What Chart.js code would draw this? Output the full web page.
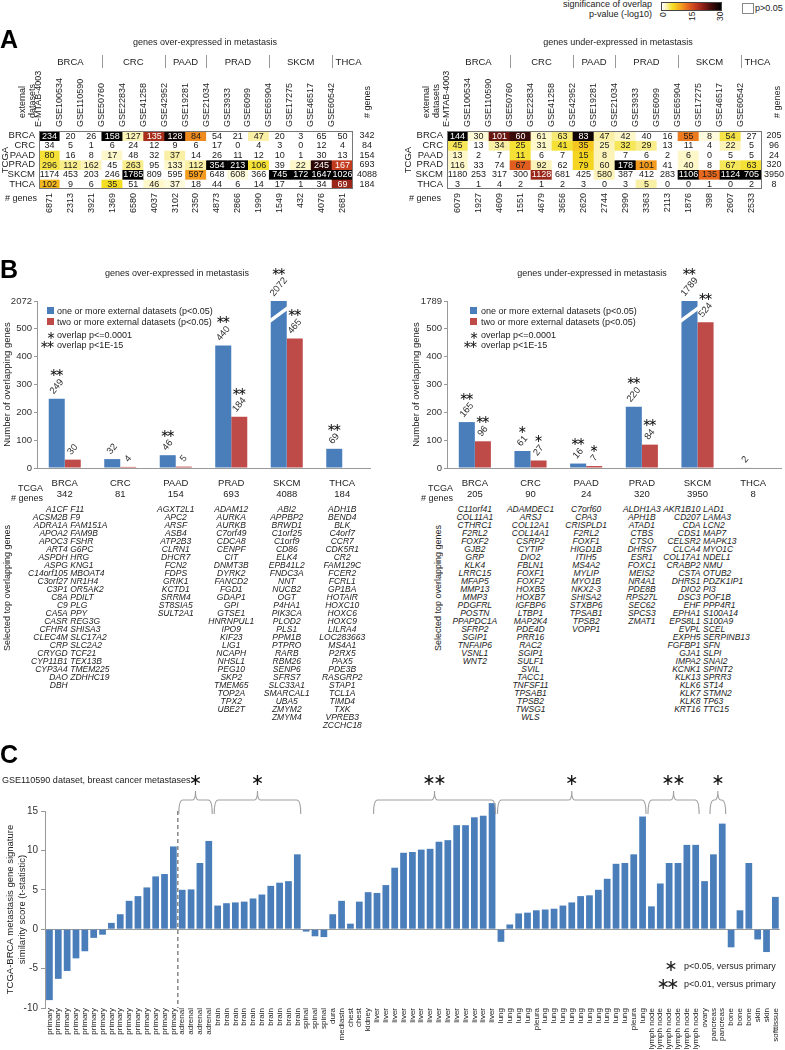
<!DOCTYPE html>
<html>
<head>
<meta charset="utf-8">
<title>Metastasis gene signature overlap</title>
<script src="https://cdn.jsdelivr.net/npm/chart.js@4.4.1/dist/chart.umd.min.js"></script>
<style>
  html, body { margin:0; padding:0; background:#fff; }
  body { position:relative; width:785px; height:1050px; overflow:hidden; font-family:'Liberation Sans', Arial, Helvetica, sans-serif; color:#222; }
  canvas { position:absolute; }
  .t { position:absolute; white-space:nowrap; font-size:9px; line-height:10px; }
  .vt { writing-mode:vertical-rl; transform:rotate(180deg); }
  .panel { position:absolute; font-weight:bold; font-size:25px; line-height:25px; color:#000; }
  .genes { position:absolute; font-style:italic; font-size:8.5px; line-height:8px; white-space:nowrap; color:#222; }
  .star { font-family:'DejaVu Sans', sans-serif; text-align:center; }
  .sq { position:absolute; width:7px; height:7px; }
</style>
</head>
<body>
<canvas id="heatUp" width="395" height="195" style="left:0;top:30px"></canvas>
<canvas id="heatDown" width="390" height="195" style="left:395px;top:30px"></canvas>
<canvas id="barUp" width="395" height="245" style="left:0;top:255px"></canvas>
<canvas id="barDown" width="380" height="245" style="left:405px;top:255px"></canvas>
<canvas id="siteBars" width="785" height="280" style="left:0;top:770px"></canvas>

<!-- colour key -->
<div class="t" style="right:133px;top:-1px;text-align:right;">significance of overlap<br>p-value (-log10)</div>
<div id="cbar" style="position:absolute;left:661px;top:2px;width:59px;height:7px;border:1px solid #444"></div>
<div class="t vt" style="left:658px;top:12px;height:10px;font-size:8.5px;text-align:end">0</div>
<div class="t vt" style="left:687px;top:12px;height:10px;font-size:8.5px;text-align:end">15</div>
<div class="t vt" style="left:715px;top:12px;height:10px;font-size:8.5px;text-align:end">30</div>
<div style="position:absolute;left:742px;top:3px;width:10px;height:9px;border:1px solid #888"></div>
<div class="t" style="left:755px;top:3px;font-size:9px">p&gt;0.05</div>

<!-- panel letters -->
<div class="panel" style="left:0;top:27px">A</div>
<div class="panel" style="left:0;top:257px">B</div>
<div class="panel" style="left:0;top:742px">C</div>

<!-- panel A texts -->
<div class="t" style="left:105px;width:200px;text-align:center;top:37px">genes over-expressed in metastasis</div>
<div class="t" style="left:518px;width:200px;text-align:center;top:37px">genes under-expressed in metastasis</div>
<div class="t vt" style="left:17px;top:60px;height:58px">external<br>datasets</div>
<div class="t vt" style="left:421px;top:60px;height:58px">external<br>datasets</div>
<div class="t vt" style="left:362px;top:70px;height:48px"># genes</div>
<div class="t vt" style="left:772px;top:70px;height:48px"># genes</div>
<div class="t" style="left:0;width:37px;text-align:right;top:193px"># genes</div>
<div class="t" style="left:395px;width:46px;text-align:right;top:193px"># genes</div>

<!-- panel B texts -->
<div class="t" style="left:77px;width:200px;text-align:center;top:268px">genes over-expressed in metastasis</div>
<div class="t" style="left:492px;width:200px;text-align:center;top:268px">genes under-expressed in metastasis</div>

<div class="sq" style="left:47px;top:307px;background:#4A7EBB"></div>
<div class="t" style="left:57px;top:306px">one or more external datasets (p&lt;0.05)</div>
<div class="sq" style="left:47px;top:318px;background:#BE4B48"></div>
<div class="t" style="left:57px;top:317px">two or more external datasets (p&lt;0.05)</div>
<div class="t star" style="left:41px;top:329px;width:20px;font-size:11px;line-height:14px">∗</div>
<div class="t" style="left:57px;top:330px">overlap p&lt;=0.0001</div>
<div class="t star" style="left:36px;top:338px;width:20px;font-size:11px;line-height:14px;letter-spacing:-3px">∗∗</div>
<div class="t" style="left:57px;top:340px">overlap p&lt;1E-15</div>

<div class="sq" style="left:470px;top:307px;background:#4A7EBB"></div>
<div class="t" style="left:481px;top:306px">one or more external datasets (p&lt;0.05)</div>
<div class="sq" style="left:470px;top:318px;background:#BE4B48"></div>
<div class="t" style="left:481px;top:317px">two or more external datasets (p&lt;0.05)</div>
<div class="t star" style="left:464px;top:329px;width:20px;font-size:11px;line-height:14px">∗</div>
<div class="t" style="left:481px;top:330px">overlap p&lt;=0.0001</div>
<div class="t star" style="left:459px;top:338px;width:20px;font-size:11px;line-height:14px;letter-spacing:-3px">∗∗</div>
<div class="t" style="left:481px;top:340px">overlap p&lt;1E-15</div>

<div class="t" style="left:0;width:43px;text-align:right;top:483px">TCGA</div>
<div class="t" style="left:0;width:43px;text-align:right;top:493px"># genes</div>
<div class="t" style="left:395px;width:58px;text-align:right;top:483px">TCGA</div>
<div class="t" style="left:395px;width:58px;text-align:right;top:493px"># genes</div>
<div class="t vt" style="left:2px;top:518px;height:140px;text-align:center">Selected top overlapping genes</div>
<div class="t vt" style="left:433px;top:518px;height:140px;text-align:center">Selected top overlapping genes</div>

<!-- panel C texts -->
<div class="t" style="left:2px;top:775px;font-size:9px">GSE110590 dataset, breast cancer metastases</div>
<div class="t star" style="left:661px;top:958px;width:20px;font-size:16px;line-height:16px">∗</div>
<div class="t" style="left:684px;top:961px">p&lt;0.05, versus primary</div>
<div class="t star" style="left:651px;top:976px;width:30px;font-size:16px;line-height:16px;letter-spacing:-4px">∗∗</div>
<div class="t" style="left:684px;top:979px">p&lt;0.01, versus primary</div>

<script>
const FONT = "'Liberation Sans', Arial, Helvetica, sans-serif";
Chart.defaults.font.family = FONT;
Chart.defaults.font.size = 9;
Chart.defaults.color = '#222';
Chart.defaults.animation = false;

/* ================= PANEL A : overlap heatmaps ================= */
const extDatasets = ['E-MTAB-4003','GSE100534','GSE110590','GSE50760','GSE22834','GSE41258','GSE42952','GSE19281','GSE21034','GSE3933','GSE6099','GSE65904','GSE17275','GSE46517','GSE60542'];
const extCancerTypes = ['BRCA','CRC','PAAD','PRAD','SKCM','THCA'];
const extCancerSpan = [3,3,2,3,3,1];
const tcgaTypes = ['BRCA','CRC','PAAD','PRAD','SKCM','THCA'];

// genes over-expressed in metastasis: overlap counts (rows = TCGA type)
const upOverlap = [
  [234,20,26,158,127,135,128,84,54,21,47,20,3,65,50],
  [34,5,1,6,24,12,9,6,17,0,4,3,0,12,4],
  [80,16,8,17,48,32,37,14,26,11,12,10,1,30,13],
  [296,112,162,45,263,95,133,112,354,213,106,39,22,245,167],
  [1174,453,203,246,1785,809,595,597,648,608,366,745,172,1647,1026],
  [102,9,6,35,51,46,37,18,44,6,14,17,1,34,69]
];
// significance of overlap, -log10 p (0 = p>0.05)
const upSignif = [
  [30,0,0,30,2,19,29,11,0,0,2.5,0,0,0,0],
  [0,0,0,0,0,0,0,0,0,0,0,0,0,0,0],
  [5,0,0,1.5,0,0,2.5,0,0,0,0,0,0,0,0],
  [4.5,3,2,0,3,0,1.5,2.5,30,30,5,0,1.5,27,17],
  [0,0,0,0,30,0,0,10,0,1,0,30,30,30,30],
  [8,0,0,5.5,0,1.5,1,0,0,0,0,0,0,0,20]
];
const upTcgaGenes = [342,84,154,693,4088,184];
const upExtGenes = [6871,2313,3921,1369,6580,4037,3102,2350,4873,2866,1990,1549,432,4076,2681];

// genes under-expressed in metastasis
const downOverlap = [
  [144,30,101,60,61,63,83,47,42,40,16,55,8,54,27],
  [45,13,34,25,31,41,35,25,32,29,13,11,4,22,5],
  [13,2,7,11,6,7,15,8,7,6,2,6,0,5,5],
  [116,33,74,67,92,62,79,60,178,101,41,40,8,67,63],
  [1180,253,317,300,1128,681,425,580,387,412,283,1106,135,1124,705],
  [3,1,4,2,1,2,3,0,3,5,0,0,1,0,2]
];
const downSignif = [
  [30,1.2,23,26,1.5,3.5,29,2.5,1.5,0,0,12,1,4.5,0],
  [4,0,2.5,5,1.5,5,7,2,4,3,0,0,0,2,0],
  [1.5,0,0,5,0,0,6,2,0,0,0,1.5,0,0,0],
  [1.5,0,0,14,2,0,6,2,30,10,0,1.5,0,4,5],
  [0,0,0,0,20,0,0,2,0,0,0,30,13,30,30],
  [0,0,0,0,0,0,0,0,0,2.5,0,0,0,0,0]
];
const downTcgaGenes = [205,96,24,320,3950,8];
const downExtGenes = [6079,1927,4609,1551,4679,3656,2620,2744,2990,3363,2113,1876,398,2607,2533];

/* ================= PANEL B : overlapping genes ================= */
const bTypes = ['BRCA','CRC','PAAD','PRAD','SKCM','THCA'];
const upTcgaN = [342,81,154,693,4088,184];
const upOneOrMore = [249,32,46,440,2072,69];
const upTwoOrMore = [30,4,5,184,465,null];
const upStarsOne = ['**','','**','**','**','**'];
const upStarsTwo = ['','','','**','**',''];

const downTcgaN = [205,90,24,320,3950,8];
const downOneOrMore = [165,61,16,220,1789,2];
const downTwoOrMore = [96,27,7,84,524,null];
const downStarsOne = ['**','*','**','**','**',''];
const downStarsTwo = ['**','*','*','**','**',''];

const upGeneLists = [
  [['A1CF','ACSM2B','ADRA1A','APOA2','APOC3','ART4','ASPDH','ASPG','C14orf105','C3orf27','C3P1','C8A','C9','CA5A','CASR','CFHR4','CLEC4M','CRP','CRYGD','CYP11B1','CYP3A4','DAO','DBH'],
   ['F11','F9','FAM151A','FAM9B','FSHR','G6PC','HRG','KNG1','MBOAT4','NR1H4','OR5AK2','PDILT','PLG','PPY','REG3G','SHISA3','SLC17A2','SLC2A2','TCF21','TEX13B','TMEM225','ZDHHC19']],
  [],
  ['AGXT2L1','APC2','ARSF','ASB4','ATP2B3','CLRN1','DHCR7','FCN2','FDPS','GRIK1','KCTD1','SRRM4','ST8SIA5','SULT2A1'],
  ['ADAM12','AURKA','AURKB','C7orf49','CDCA8','CENPF','CIT','DNMT3B','DYRK2','FANCD2','FGD1','GDAP1','GPI','GTSE1','HNRNPUL1','IPO9','KIF23','LIG1','NCAPH','NHSL1','PEG10','SKP2','TMEM65','TOP2A','TPX2','UBE2T'],
  ['ABI2','APPBP2','BRWD1','C1orf25','C1orf9','CD86','ELK4','EPB41L2','FNDC3A','NNT','NUCB2','OGT','P4HA1','PIK3CA','PLOD2','PLS1','PPM1B','PTPRO','RARB','RBM26','SENP6','SFRS7','SLC33A1','SMARCAL1','UBA5','ZMYM2','ZMYM4'],
  ['ADH1B','BEND4','BLK','C4orf7','CCR7','CDK5R1','CR2','FAM129C','FCER2','FCRL1','GP1BA','HOTAIR','HOXC10','HOXC6','HOXC9','LILRA4','LOC283663','MS4A1','P2RX5','PAX5','PDE3B','RASGRP2','STAP1','TCL1A','TIMD4','TXK','VPREB3','ZCCHC18']
];
const downGeneLists = [
  ['C11orf41','COL11A1','CTHRC1','F2RL2','FOXF2','GJB2','GRP','KLK4','LRRC15','MFAP5','MMP13','MMP3','PDGFRL','POSTN','PPAPDC1A','SFRP2','SGIP1','TNFAIP6','VSNL1','WNT2'],
  ['ADAMDEC1','ARSJ','COL12A1','COL14A1','CSRP2','CYTIP','DIO2','FBLN1','FOXF1','FOXF2','HOXB5','HOXB7','IGFBP6','LTBP1','MAP2K4','PDE4D','PRR16','RAC2','SGIP1','SULF1','SVIL','TACC1','TNFSF11','TPSAB1','TPSB2','TWSG1','WLS'],
  ['C7orf60','CPA3','CRISPLD1','F2RL2','FOXF1','HIGD1B','ITIH5','MS4A2','MYLIP','MYO1B','NKX2-3','SHISA2','STXBP6','TPSAB1','TPSB2','VOPP1'],
  ['ALDH1A3','APH1B','ATAD1','CTBS','CTSO','DHRS7','ESR1','FOXC1','MEIS2','NR4A1','PDE8B','RPS27L','SEC62','SPCS3','ZMAT1'],
  [['AKR1B10','CD207','CDA','CDS1','CELSR2','CLCA4','COL17A1','CRABP2','CSTA','DHRS1','DIO2','DSC3','EHF','EPHA1','EPS8L1','EVPL','EXPH5','FGFBP1','GJA1','IMPA2','KCNK1','KLK13','KLK6','KLK7','KLK8','KRT16'],
   ['LAD1','LAMA3','LCN2','MAP7','MAPK13','MYO1C','NDEL1','NMU','OTUB2','PDZK1IP1','PI3','POF1B','PPP4R1','S100A14','S100A9','SCEL','SERPINB13','SFN','SLPI','SNAI2','SPINT2','SPRR3','ST14','STMN2','TP63','TTC15']],
  []
];

/* ================= PANEL C : GSE110590 signature scores ================= */
const siteLabels = [
  'primary','primary','primary','primary','primary','primary','primary','primary','primary','primary','primary','primary','primary','primary','primary',
  'adrenal','adrenal','adrenal','adrenal',
  'brain','brain','brain','brain','brain','brain','brain','brain','brain','brain',
  'spinal','spinal','spinal',
  'dura','mediastn','chest','chest','kidney',
  'liver','liver','liver','liver','liver','liver','liver','liver','liver','liver','liver','liver','liver','liver',
  'lung','lung','lung','lung','pleura','lung','lung','lung','lung','lung','lung','lung','lung','lung','lung','pleura','lung',
  'lymph node','lymph node','lymph node','lymph node','lymph node','lymph node',
  'ovary','pancreas','pancreas','bone','bone','bone','skin','skin','softtissue'
];
const tStatistic = [
  -9.0,-6.3,-5.3,-3.7,-2.8,-1.1,-0.7,0.8,1.9,3.6,4.2,5.3,6.7,7.0,10.5,
  5.0,5.05,8.4,11.2,
  3.0,3.3,3.4,3.5,3.9,4.4,5.5,5.9,6.1,9.5,
  -0.3,-0.9,-1.0,
  1.9,3.6,0.7,3.5,4.7,
  4.6,5.6,7.8,9.7,9.8,10.1,10.2,11.1,11.3,13.2,13.2,14.2,14.4,16.0,
  -1.6,0.6,2.0,2.1,2.4,2.5,2.6,3.0,3.4,4.2,4.3,5.0,6.4,8.3,8.4,9.5,14.3,
  2.9,5.8,8.4,8.4,10.7,10.7,
  6.1,9.5,13.4,-2.3,2.4,8.4,-1.3,-2.9,4.1
];
const lastPrimaryIndex = 14;
const sigGroupFrom = [15,19,37,51,68,75];
const sigGroupTo   = [18,28,50,67,73,76];
const sigGroupMark = ['*','*','**','*','**','*'];

/* ================= colour map ================= */
const cmapStops = [
  [0,[255,255,255]],[1,[254,250,220]],[2.5,[250,240,165]],[4,[246,230,90]],[5.5,[244,222,35]],
  [7.5,[245,190,30]],[10,[243,155,30]],[13,[232,105,30]],[17,[196,60,32]],[21,[140,30,22]],
  [25,[70,12,10]],[30,[0,0,0]]
];
function sigColor(v) {
  if (!v) return '#ffffff';
  v = Math.min(30, v);
  for (let i = 1; i < cmapStops.length; i++) {
    if (v <= cmapStops[i][0]) {
      const [a, ca] = cmapStops[i-1], [b, cb] = cmapStops[i];
      const t = (v - a) / (b - a);
      return 'rgb(' + ca.map((c, k) => Math.round(c + (cb[k] - c) * t)).join(',') + ')';
    }
  }
  return '#000';
}
document.getElementById('cbar').style.background =
  'linear-gradient(to right,' + cmapStops.map(s => `rgb(${s[1].join(',')}) ${(s[0]/30*100).toFixed(1)}%`).join(',') + ')';

function drawStars(ctx, s, cx, cy, size, spacing) {
  if (!s) return;
  const n = s.length;
  ctx.save();
  ctx.font = `${size}px 'DejaVu Sans', sans-serif`;
  ctx.textAlign = 'center'; ctx.textBaseline = 'middle'; ctx.fillStyle = '#111';
  for (let i = 0; i < n; i++) ctx.fillText('∗', cx + (i - (n - 1) / 2) * spacing, cy);
  ctx.restore();
}

/* ================= heatmap plugin & builder ================= */
const heatPlugin = {
  id: 'heatAnno',
  afterDatasetsDraw(chart, args, o) {
    const ctx = chart.ctx, a = chart.chartArea, xs = chart.scales.x;
    ctx.save();
    ctx.font = `9px ${FONT}`; ctx.textAlign = 'center'; ctx.textBaseline = 'middle';
    chart.data.datasets.forEach((ds, r) => {
      chart.getDatasetMeta(r).data.forEach((el, c) => {
        ctx.fillStyle = o.signif[r][c] >= 15 ? '#ffffff' : '#1a1a1a';
        ctx.fillText(String(o.overlap[r][c]), el.x, (el.y + el.base) / 2 + 0.5);
      });
    });
    ctx.strokeStyle = '#777'; ctx.lineWidth = 1;
    ctx.strokeRect(Math.round(a.left) + 0.5, Math.round(a.top) + 0.5, Math.round(a.right - a.left) - 1, Math.round(a.bottom - a.top) - 1);
    const colW = xs.getPixelForValue(1) - xs.getPixelForValue(0);
    let k = 0;
    ctx.font = `9.5px ${FONT}`; ctx.fillStyle = '#222';
    o.groups.forEach((g, gi) => {
      const span = o.spans[gi];
      const x0 = xs.getPixelForValue(k) - colW / 2, x1 = xs.getPixelForValue(k + span - 1) + colW / 2;
      ctx.fillText(g, (x0 + x1) / 2 + (span === 1 ? 6 : 0), o.groupY);
      if (k > 0) {
        ctx.strokeStyle = '#999'; ctx.lineWidth = 1;
        ctx.beginPath(); ctx.moveTo(Math.round(x0) + 0.5, o.groupY - 7); ctx.lineTo(Math.round(x0) + 0.5, o.groupY + 6); ctx.stroke();
      }
      k += span;
    });
    ctx.restore();
  }
};

function heatmapConfig(overlap, signif, tcgaN, extN, leftW, rightW, titlePad, rightPad) {
  const datasets = tcgaTypes.map((t, r) => ({
    label: t,
    data: extDatasets.map(() => [r, r + 1]),
    backgroundColor: signif[r].map(sigColor),
    borderWidth: 0,
    grouped: false,
    categoryPercentage: 1,
    barPercentage: 1,
    xAxisID: 'x', yAxisID: 'y'
  }));
  const noGrid = { display: false, drawTicks: false };
  return {
    type: 'bar',
    data: { labels: extDatasets, datasets },
    options: {
      responsive: false, animation: false,
      layout: { padding: { top: 39, left: 0, right: 0, bottom: 0 } },
      plugins: {
        legend: { display: false }, tooltip: { enabled: false },
        heatAnno: { overlap, signif, groups: extCancerTypes, spans: extCancerSpan, groupY: 32 }
      },
      scales: {
        x: { type: 'category', display: false, offset: true },
        y: { type: 'linear', display: false, min: 0, max: 6, reverse: true },
        xTop: { type: 'category', labels: extDatasets, position: 'top', offset: true, grid: noGrid, border: { display: false },
                ticks: { minRotation: 90, maxRotation: 90, autoSkip: false, padding: 4, font: { size: 9 } },
                afterFit: s => { s.height = 62; } },
        xBot: { type: 'category', labels: extN.map(String), position: 'bottom', offset: true, grid: noGrid, border: { display: false },
                ticks: { minRotation: 90, maxRotation: 90, autoSkip: false, padding: 4, font: { size: 9 } },
                afterFit: s => { s.height = 36; } },
        yL: { type: 'category', labels: tcgaTypes, position: 'left', offset: true, grid: noGrid, border: { display: false },
              ticks: { padding: 4, font: { size: 9.5 }, autoSkip: false },
              title: { display: true, text: 'TCGA', font: { size: 9.5 }, padding: { top: titlePad, bottom: 0 } },
              afterFit: s => { s.width = leftW; } },
        yR: { type: 'category', labels: tcgaN.map(String), position: 'right', offset: true, grid: noGrid, border: { display: false },
              ticks: { padding: rightPad, crossAlign: 'center', font: { size: 9 }, autoSkip: false },
              afterFit: s => { s.width = rightW; } }
      }
    },
    plugins: [heatPlugin]
  };
}

new Chart(document.getElementById('heatUp'), heatmapConfig(upOverlap, upSignif, upTcgaGenes, upExtGenes, 39, 42, 0, 4));
new Chart(document.getElementById('heatDown'), heatmapConfig(downOverlap, downSignif, downTcgaGenes, downExtGenes, 52, 23, 8, 2));

/* ================= bar chart (panel B) ================= */
const B_AXIS_TOP = 600;
const barLabelPlugin = {
  id: 'barLabels',
  afterDatasetsDraw(chart, args, o) {
    const ctx = chart.ctx, ys = chart.scales.y;
    chart.data.datasets.forEach((ds, di) => {
      chart.getDatasetMeta(di).data.forEach((el, i) => {
        const v = ds.real[i];
        if (v == null) return;
        const w = el.width;
        if (v > ys.max) {
          const yA = ys.getPixelForValue(o.breakLow), yB = ys.getPixelForValue(o.breakHigh);
          ctx.save(); ctx.strokeStyle = '#fff'; ctx.lineWidth = 3.5;
          ctx.beginPath(); ctx.moveTo(el.x - w / 2 - 2, yA); ctx.lineTo(el.x + w / 2 + 2, yB); ctx.stroke();
          ctx.restore();
        }
        const txt = String(v);
        ctx.save();
        ctx.font = `9.5px ${FONT}`;
        const L = ctx.measureText(txt).width;
        const ang = 50 * Math.PI / 180;
        const cy = el.y - 6 - (L / 2) * Math.sin(ang);
        ctx.translate(el.x, cy); ctx.rotate(-ang);
        ctx.fillStyle = '#333'; ctx.textAlign = 'center'; ctx.textBaseline = 'middle';
        ctx.fillText(txt, 0, 0);
        ctx.restore();
        drawStars(ctx, ds.stars[i], el.x, cy - (L / 2) * Math.sin(ang) - 7, 11, 6);
      });
    });
  }
};

function barConfig(types, tcgaN, one, two, starsOne, starsTwo, yW, padL, padR, titlePad) {
  const cap = v => v == null ? null : Math.min(v, B_AXIS_TOP);
  const topLabel = Math.max(...one.filter(v => v != null));
  return {
    type: 'bar',
    data: {
      labels: types.map((t, i) => [t, String(tcgaN[i])]),
      datasets: [
        { label: 'one or more external datasets (p<0.05)', data: one.map(cap), real: one, stars: starsOne, backgroundColor: '#4A7EBB' },
        { label: 'two or more external datasets (p<0.05)', data: two.map(cap), real: two, stars: starsTwo, backgroundColor: '#BE4B48' }
      ]
    },
    options: {
      responsive: false, animation: false,
      datasets: { bar: { categoryPercentage: 0.577, barPercentage: 1 } },
      layout: { padding: { top: 46, left: padL, right: padR, bottom: 0 } },
      plugins: { legend: { display: false }, tooltip: { enabled: false }, barLabels: { breakLow: 525, breakHigh: 578 } },
      scales: {
        x: { grid: { display: false, drawTicks: false }, border: { display: true, color: '#999' },
             ticks: { padding: 9, font: { size: 9.5, lineHeight: 1.25 }, color: '#222' },
             afterFit: s => { s.height = 32; } },
        y: { min: 0, max: B_AXIS_TOP,
             ticks: { stepSize: 100, padding: 2, font: { size: 9.5 }, color: '#333',
                      callback: v => v === B_AXIS_TOP ? String(topLabel) : String(v) },
             grid: { drawOnChartArea: false, tickLength: 3, tickColor: '#999' },
             border: { display: true, color: '#999' },
             title: { display: true, text: 'Number of overlapping genes', font: { size: 9.5 }, color: '#222', padding: { top: titlePad, bottom: 0 } },
             afterFit: s => { s.width = yW; } }
      }
    },
    plugins: [barLabelPlugin]
  };
}

const barUp = new Chart(document.getElementById('barUp'),
  barConfig(bTypes, upTcgaN, upOneOrMore, upTwoOrMore, upStarsOne, upStarsTwo, 37, 0, 25, 2));
const barDown = new Chart(document.getElementById('barDown'),
  barConfig(bTypes, downTcgaN, downOneOrMore, downTwoOrMore, downStarsOne, downStarsTwo, 42, 0, 4, 6));

const GENE_TOP = 505;
function placeGeneLists(chart, canvasLeft, lists) {
  const xs = chart.scales.x;
  lists.forEach((L, i) => {
    if (!L.length) return;
    const cx = canvasLeft + xs.getPixelForValue(i);
    if (Array.isArray(L[0])) {
      const split = cx + 3;
      const c1 = document.createElement('div');
      c1.className = 'genes';
      c1.style.cssText = `left:${split - 100}px;width:100px;text-align:right;top:${GENE_TOP}px`;
      c1.innerHTML = L[0].join('<br>');
      const c2 = document.createElement('div');
      c2.className = 'genes';
      c2.style.cssText = `left:${split + 2.5}px;text-align:left;top:${GENE_TOP}px`;
      c2.innerHTML = L[1].join('<br>');
      document.body.appendChild(c1); document.body.appendChild(c2);
    } else {
      const d = document.createElement('div');
      d.className = 'genes';
      d.style.cssText = `left:${cx - 60}px;width:120px;text-align:center;top:${GENE_TOP}px`;
      d.innerHTML = L.join('<br>');
      document.body.appendChild(d);
    }
  });
}
placeGeneLists(barUp, 0, upGeneLists);
placeGeneLists(barDown, 405, downGeneLists);

/* ================= panel C chart ================= */
const sitePlugin = {
  id: 'siteAnno',
  afterDatasetsDraw(chart, args, o) {
    const { ctx, chartArea: a, scales: { x } } = chart;
    const step = x.getPixelForValue(1) - x.getPixelForValue(0);
    const xd = (x.getPixelForValue(o.split) + x.getPixelForValue(o.split + 1)) / 2;
    ctx.save();
    ctx.setLineDash([4, 3]); ctx.strokeStyle = '#888'; ctx.lineWidth = 1.5;
    ctx.beginPath(); ctx.moveTo(xd, a.top); ctx.lineTo(xd, a.bottom); ctx.stroke();
    ctx.setLineDash([]);
    ctx.strokeStyle = '#a0a0a0'; ctx.lineWidth = 1.1;
    const yLine = a.top - 11, yLeg = a.top + 3, yPeak = a.top - 20;
    o.from.forEach((f, k) => {
      const t = o.to[k];
      const xL = x.getPixelForValue(f) - step / 2 + 1, xR = x.getPixelForValue(t) + step / 2 - 1, xm = (xL + xR) / 2;
      ctx.beginPath();
      ctx.moveTo(xL, yLeg);
      ctx.quadraticCurveTo(xL, yLine, xL + 4, yLine);
      ctx.lineTo(xm - 3, yLine);
      ctx.quadraticCurveTo(xm, yLine, xm, yPeak);
      ctx.quadraticCurveTo(xm, yLine, xm + 3, yLine);
      ctx.lineTo(xR - 4, yLine);
      ctx.quadraticCurveTo(xR, yLine, xR, yLeg);
      ctx.stroke();
      drawStars(ctx, o.marks[k], xm, a.top - 30, 16, 11);
    });
    ctx.restore();
  }
};

new Chart(document.getElementById('siteBars'), {
  type: 'bar',
  data: {
    labels: siteLabels,
    datasets: [{ label: 't-statistic', data: tStatistic, backgroundColor: '#4A7EBB', clip: false,
                 categoryPercentage: 1, barPercentage: 0.76 }]
  },
  options: {
    responsive: false, animation: false,
    layout: { padding: { top: 41, right: 4, left: 0, bottom: 0 } },
    plugins: { legend: { display: false }, tooltip: { enabled: false },
               siteAnno: { split: lastPrimaryIndex, from: sigGroupFrom, to: sigGroupTo, marks: sigGroupMark } },
    scales: {
      x: { grid: { display: false, drawTicks: false }, border: { display: false },
           ticks: { autoSkip: false, minRotation: 90, maxRotation: 90, padding: 0, color: '#222',
                    font: { size: 8 } },
           afterFit: s => { s.height = 42; } },
      y: { min: -10, max: 15,
           ticks: { stepSize: 5, padding: 3, font: { size: 10 }, color: '#333' },
           grid: { color: c => (c.tick && c.tick.value === 0) ? '#999' : 'rgba(0,0,0,0)', tickColor: '#999', tickLength: 4 },
           border: { display: true, color: '#999' },
           title: { display: true, text: ['TCGA-BRCA metastasis gene signature', 'similarity score (t-statistic)'],
                    font: { size: 9.5 }, color: '#222', padding: { top: 5, bottom: 0 } },
           afterFit: s => { s.width = 45; } }
    }
  },
  plugins: [sitePlugin]
});
</script>
</body>
</html>
